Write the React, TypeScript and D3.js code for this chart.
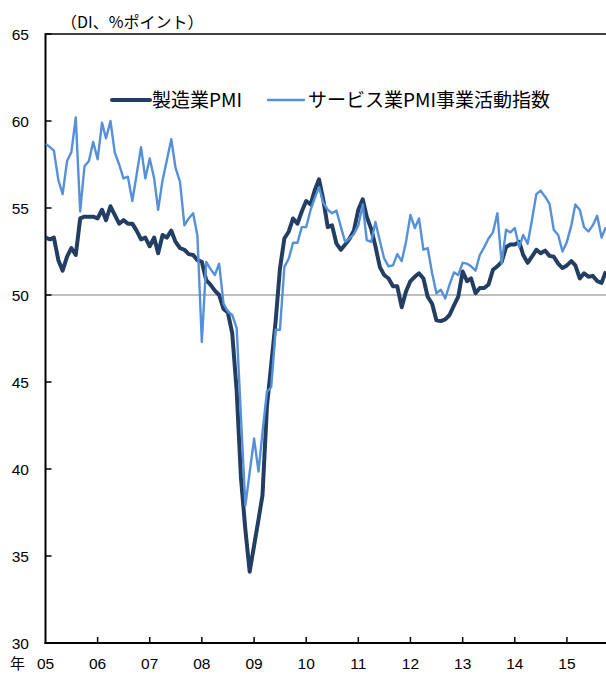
import React from 'react';
import * as d3 from 'd3';

// monthly values, Jan 2005 - Oct 2015 (DI)
const startYear = 2005;

const manufacturing = [
  53.3, 53.2, 53.3, 52.0, 51.4, 52.2, 52.7, 52.3, 54.4, 54.5, 54.5, 54.5,
  54.4, 54.9, 54.3, 55.1, 54.6, 54.1, 54.3, 54.1, 54.1, 53.7, 53.2, 53.3,
  52.8, 53.3, 52.4, 53.45, 53.3, 53.7, 53.05, 52.7, 52.6, 52.35, 52.3, 52.0,
  51.9, 50.85, 50.6, 50.25, 50.0, 49.2, 49.0, 47.8, 44.5, 39.5, 36.5, 34.1,
  35.6, 37.1, 38.5, 43.6, 46.0, 48.5, 51.5, 53.25, 53.65, 54.4, 54.1, 54.8,
  55.4, 55.2, 56.0, 56.65, 55.45, 53.9, 54.0, 52.95, 52.6, 52.9, 53.25, 53.7,
  54.9, 55.5, 54.5, 53.8, 52.8, 51.6, 51.15, 50.95, 50.5, 50.5, 49.3, 50.2,
  50.8, 51.05, 51.25, 50.95, 49.9, 49.5, 48.55, 48.5, 48.6, 48.85, 49.4, 49.9,
  51.35, 50.8, 50.95, 50.1, 50.4, 50.4, 50.6, 51.45, 51.65, 51.9, 52.75, 52.9,
  52.9, 53.05, 52.3, 51.85, 52.2, 52.6, 52.4, 52.55, 52.25, 52.2, 51.8, 51.55,
  51.7, 51.95, 51.7, 50.95, 51.25, 51.05, 51.1, 50.8, 50.7, 51.35,
];

const services = [
  58.7, 58.5, 58.3, 56.6, 55.8, 57.7, 58.2, 60.2, 54.8, 57.4, 57.7, 58.8,
  57.8, 59.9, 59.0, 60.0, 58.2, 57.5, 56.7, 56.8, 55.4, 56.9, 58.5, 56.7,
  57.85, 56.7, 54.9, 56.6, 57.75, 58.95, 57.3, 56.5, 54.0, 54.4, 54.7, 53.4,
  47.3, 51.9, 51.5, 51.15, 51.8, 49.5, 49.05, 48.85, 48.1, 43.0, 37.9, 39.8,
  41.75, 39.85, 42.1, 44.45, 44.7, 48.0, 48.0, 51.6, 52.1, 53.0, 53.0, 53.9,
  53.9, 54.9, 55.55, 56.2, 55.3, 54.9, 54.7, 54.85, 53.9, 53.05, 53.25, 53.5,
  54.0, 55.2, 53.15, 53.05, 54.2, 53.1, 52.1, 51.65, 51.7, 52.35, 51.95, 53.05,
  54.6, 53.85, 54.4, 52.6, 52.7, 51.25, 50.1, 50.3, 49.8, 50.6, 51.3, 51.15,
  51.85, 51.8, 51.65, 51.4, 52.3, 52.75, 53.25, 53.6, 54.7, 51.8, 53.75, 53.6,
  53.85, 52.75, 53.45, 52.95, 54.3, 55.8, 56.0, 55.65, 55.25, 53.75, 53.45, 52.5,
  53.05, 54.0, 55.2, 54.9, 53.9, 53.65, 54.0, 54.55, 53.3, 53.9,
];

const yearLabels = ['05', '06', '07', '08', '09', '10', '11', '12', '13', '14', '15'];
const yTicks = [30, 35, 40, 45, 50, 55, 60, 65];
const seriesNames = ['製造業PMI', 'サービス業PMI事業活動指数'];

const W = 606;
const H = 675;
const left = 45.5;
const right = 606;
const top = 34;
const bottom = 643;

const DARK = '#233e63';
const BLUE = '#5590d8';
const FONT = '"Noto Sans CJK JP", "Liberation Sans", sans-serif';
const NUM_FONT = '"Liberation Sans", Arial, sans-serif';

export default function App() {
  const x = d3.scaleTime()
    .domain([new Date(startYear, 0, 1), new Date(startYear + 10, 0, 1)])
    .range([left, 566.9]);
  const y = d3.scaleLinear().domain([30, 65]).range([bottom, top]);

  const dateOf = (i: number) => new Date(startYear, i, 1);
  const line = d3.line<number>()
    .x((_, i) => x(dateOf(i)))
    .y((d) => y(d));

  const years = yearLabels.map((_, i) => new Date(startYear + i, 0, 1));

  return (
    <svg width={W} height={H} style={{ position: 'absolute', left: 0, top: 0, background: '#fff' }} fontFamily={FONT}>
      <defs>
        <clipPath id="plot">
          <rect x={left} y={0} width={right - left} height={bottom} />
        </clipPath>
      </defs>

      <text x={61} y={28} fontSize={16} fill="#000">（DI、%ポイント）</text>

      {/* 50 reference line */}
      <line x1={left} x2={right} y1={y(50)} y2={y(50)} stroke="#7f7f7f" strokeWidth={1} />

      {/* frame */}
      <line x1={left} x2={right} y1={top} y2={top} stroke="#000" strokeWidth={1.5} />
      <line x1={left} x2={left} y1={top - 0.75} y2={bottom + 1} stroke="#000" strokeWidth={2} />
      <line x1={left - 1} x2={right} y1={bottom} y2={bottom} stroke="#000" strokeWidth={2} />

      {yTicks.map((t) => (
        <g key={t}>
          <line x1={left} x2={left + 6} y1={y(t)} y2={y(t)} stroke="#000" strokeWidth={1.5} />
          <text x={29} y={y(t) + 6} textAnchor="end" fontSize={15.5} fontFamily={NUM_FONT} fill="#000">{t}</text>
        </g>
      ))}

      {years.map((d, i) => (
        <g key={i}>
          {i > 0 && <line x1={x(d)} x2={x(d)} y1={bottom} y2={bottom - 6} stroke="#000" strokeWidth={1.5} />}
          <text x={x(d)} y={669} textAnchor="middle" fontSize={15.5} fontFamily={NUM_FONT} fill="#000">{yearLabels[i]}</text>
        </g>
      ))}
      <text x={10} y={669} fontSize={15} fill="#000">年</text>

      <g clipPath="url(#plot)">
        <path d={line(manufacturing) || ''} fill="none" stroke={DARK} strokeWidth={4} strokeLinejoin="round" />
        <path d={line(services) || ''} fill="none" stroke={BLUE} strokeWidth={2.4} strokeLinejoin="round" />
      </g>

      {/* legend */}
      <line x1={112} x2={150} y1={100} y2={100} stroke={DARK} strokeWidth={4} strokeLinecap="round" />
      <text x={152} y={107} fontSize={19} fill="#000">{seriesNames[0]}</text>
      <line x1={268} x2={304} y1={100} y2={100} stroke={BLUE} strokeWidth={2.4} strokeLinecap="round" />
      <text x={308} y={107} fontSize={19} fill="#000">{seriesNames[1]}</text>
    </svg>
  );
}
